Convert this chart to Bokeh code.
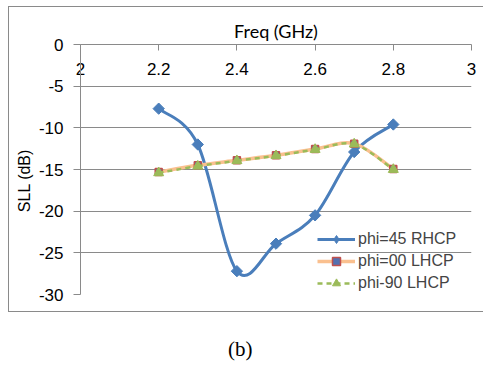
import numpy as np
from bokeh.plotting import figure
from bokeh.layouts import column
from bokeh.models import (Range1d, FixedTicker, Legend, LegendItem, Div,
                          ColumnDataSource)
from bokeh.embed import file_html
from bokeh.resources import INLINE

# ---- data ----
freq = [2.2, 2.3, 2.4, 2.5, 2.6, 2.7, 2.8]
rhcp45 = [-7.7, -12.0, -27.2, -23.9, -20.5, -12.9, -9.6]
lhcp00 = [-15.3, -14.5, -13.9, -13.3, -12.55, -11.9, -14.95]
lhcp90 = [-15.4, -14.6, -13.95, -13.35, -12.6, -11.95, -15.0]
series_names = ["phi=45 RHCP", "phi=00 LHCP", "phi-90 LHCP"]
xticks = [2, 2.2, 2.4, 2.6, 2.8, 3]
xtick_labels = ["2", "2.2", "2.4", "2.6", "2.8", "3"]
yticks = [0, -5, -10, -15, -20, -25, -30]
ytick_labels = ["0", "-5", "-10", "-15", "-20", "-25", "-30"]
x_title = "Freq (GHz)"
y_title = "SLL (dB)"
caption = "(b)"

GRAY = "#8a8a8a"
SANS = "Liberation Sans"


def smooth_segments(xs, ys):
    """Bezier control points for a smoothed (Excel-like) line through the data."""
    x = np.asarray(xs, float)
    y = np.asarray(ys, float)
    qx = np.concatenate([[x[0]], x, [x[-1]]])
    qy = np.concatenate([[y[0]], y, [y[-1]]])
    n = len(x) - 1
    return dict(
        x0=qx[1:n + 1], y0=qy[1:n + 1],
        x1=qx[2:n + 2], y1=qy[2:n + 2],
        cx0=qx[1:n + 1] + (qx[2:n + 2] - qx[0:n]) / 6.0,
        cy0=qy[1:n + 1] + (qy[2:n + 2] - qy[0:n]) / 6.0,
        cx1=qx[2:n + 2] - (qx[3:n + 3] - qx[1:n + 1]) / 6.0,
        cy1=qy[2:n + 2] - (qy[3:n + 3] - qy[1:n + 1]) / 6.0,
    )


p = figure(width=475, height=306, output_backend="svg", toolbar_location=None,
           x_range=Range1d(2, 3), y_range=Range1d(-30, 0),
           x_axis_location="above",
           min_border_left=71, min_border_right=13,
           min_border_top=37, min_border_bottom=19,
           margin=(6, 0, 0, 8),
           styles={"border-top": "1px solid " + GRAY,
                   "border-left": "1px solid " + GRAY,
                   "border-bottom": "1px solid " + GRAY})
p.outline_line_color = None
p.background_fill_color = "white"
p.border_fill_color = "white"

# axes
xa = p.xaxis[0]
xa.ticker = FixedTicker(ticks=xticks)
xa.major_label_overrides = {t: s for t, s in zip(xticks, xtick_labels)}
xa.major_tick_in = 6
xa.major_tick_out = 0
xa.minor_tick_in = 0
xa.minor_tick_out = 0
xa.major_label_standoff = -30
xa.axis_line_color = GRAY
xa.major_tick_line_color = GRAY
xa.major_label_text_font = SANS
xa.major_label_text_font_size = "17px"
xa.major_label_text_color = "black"
xa.axis_label = x_title
xa.axis_label_standoff = 18
xa.axis_label_text_font = "Lato"
xa.axis_label_text_font_size = "18px"
xa.axis_label_text_font_style = "normal"
xa.axis_label_text_color = "black"

ya = p.yaxis[0]
ya.ticker = FixedTicker(ticks=yticks)
ya.major_label_overrides = {t: s for t, s in zip(yticks, ytick_labels)}
ya.major_tick_in = 0
ya.major_tick_out = 7
ya.minor_tick_in = 0
ya.minor_tick_out = 0
ya.major_label_standoff = 10
ya.axis_line_color = GRAY
ya.major_tick_line_color = GRAY
ya.major_label_text_font = SANS
ya.major_label_text_font_size = "17px"
ya.major_label_text_color = "black"
# trailing no-break spaces shift the visible title a little below the frame centre
ya.axis_label = y_title + "\u00a0" * 5
ya.axis_label_standoff = 3
ya.axis_label_text_font = SANS
ya.axis_label_text_font_size = "16px"
ya.axis_label_text_font_style = "normal"
ya.axis_label_text_color = "black"

p.xgrid.visible = False
p.ygrid.ticker = FixedTicker(ticks=yticks)
p.ygrid.grid_line_color = GRAY
p.ygrid.grid_line_width = 1


def add_series(ys, color, width, dash, marker, size, fill, mline, mwidth,
               angle=0.0, legend_marker=None, legend_size=None):
    seg = smooth_segments(freq, ys)
    p.bezier(source=ColumnDataSource(seg), x0="x0", y0="y0", x1="x1", y1="y1",
             cx0="cx0", cy0="cy0", cx1="cx1", cy1="cy1",
             line_color=color, line_width=width, line_dash=dash)
    # one-point line: draws nothing in the plot, but gives the legend its line
    leg = p.line(freq[:1], ys[:1], line_color=color, line_width=width, line_dash=dash)
    rends = [leg]
    if legend_marker is not None:
        # not drawn in the plot (visible=False); only used for the legend symbol
        rends.append(p.scatter(freq[:1], ys[:1], marker=legend_marker, size=legend_size,
                               fill_color=fill, line_color=mline, line_width=mwidth,
                               visible=False))
    mk = p.scatter(freq, ys, marker=marker, angle=angle, size=size,
                   fill_color=fill, line_color=mline, line_width=mwidth)
    if legend_marker is None:
        rends.append(mk)
    return rends


r1 = add_series(rhcp45, "#4A7EBB", 3, "solid", "square", 8,
                "#4A7EBB", "#4A7EBB", 1, angle=np.pi / 4,
                legend_marker="diamond", legend_size=15)
r2 = add_series(lhcp00, "#FAC08F", 3.5, "solid", "square", 7,
                "#5470B0", "#C0504D", 1.5)
r3 = add_series(lhcp90, "#9BBB59", 2.5, "5 4", "triangle", 10,
                "#9BBB59", "#9BBB59", 1)

legend = Legend(items=[
    LegendItem(label=series_names[0], renderers=r1),
    LegendItem(label=series_names[1], renderers=r2),
    LegendItem(label=series_names[2], renderers=r3),
], location=(237, 1))
legend.background_fill_alpha = 0
legend.border_line_alpha = 0
legend.inactive_fill_alpha = 0
legend.label_text_font = SANS
legend.label_text_font_size = "16px"
legend.glyph_width = 38
legend.glyph_height = 20
legend.label_height = 20
legend.spacing = 2
legend.padding = 0
legend.margin = 0
legend.label_standoff = 3
p.add_layout(legend)

cap = Div(text=caption, margin=(25, 0, 0, 228),
          styles={"font-family": "Liberation Serif", "font-size": "21px",
                  "color": "black", "line-height": "24px"})

layout = column(p, cap, spacing=0)
open("out.html", "w").write(file_html(layout, INLINE))
